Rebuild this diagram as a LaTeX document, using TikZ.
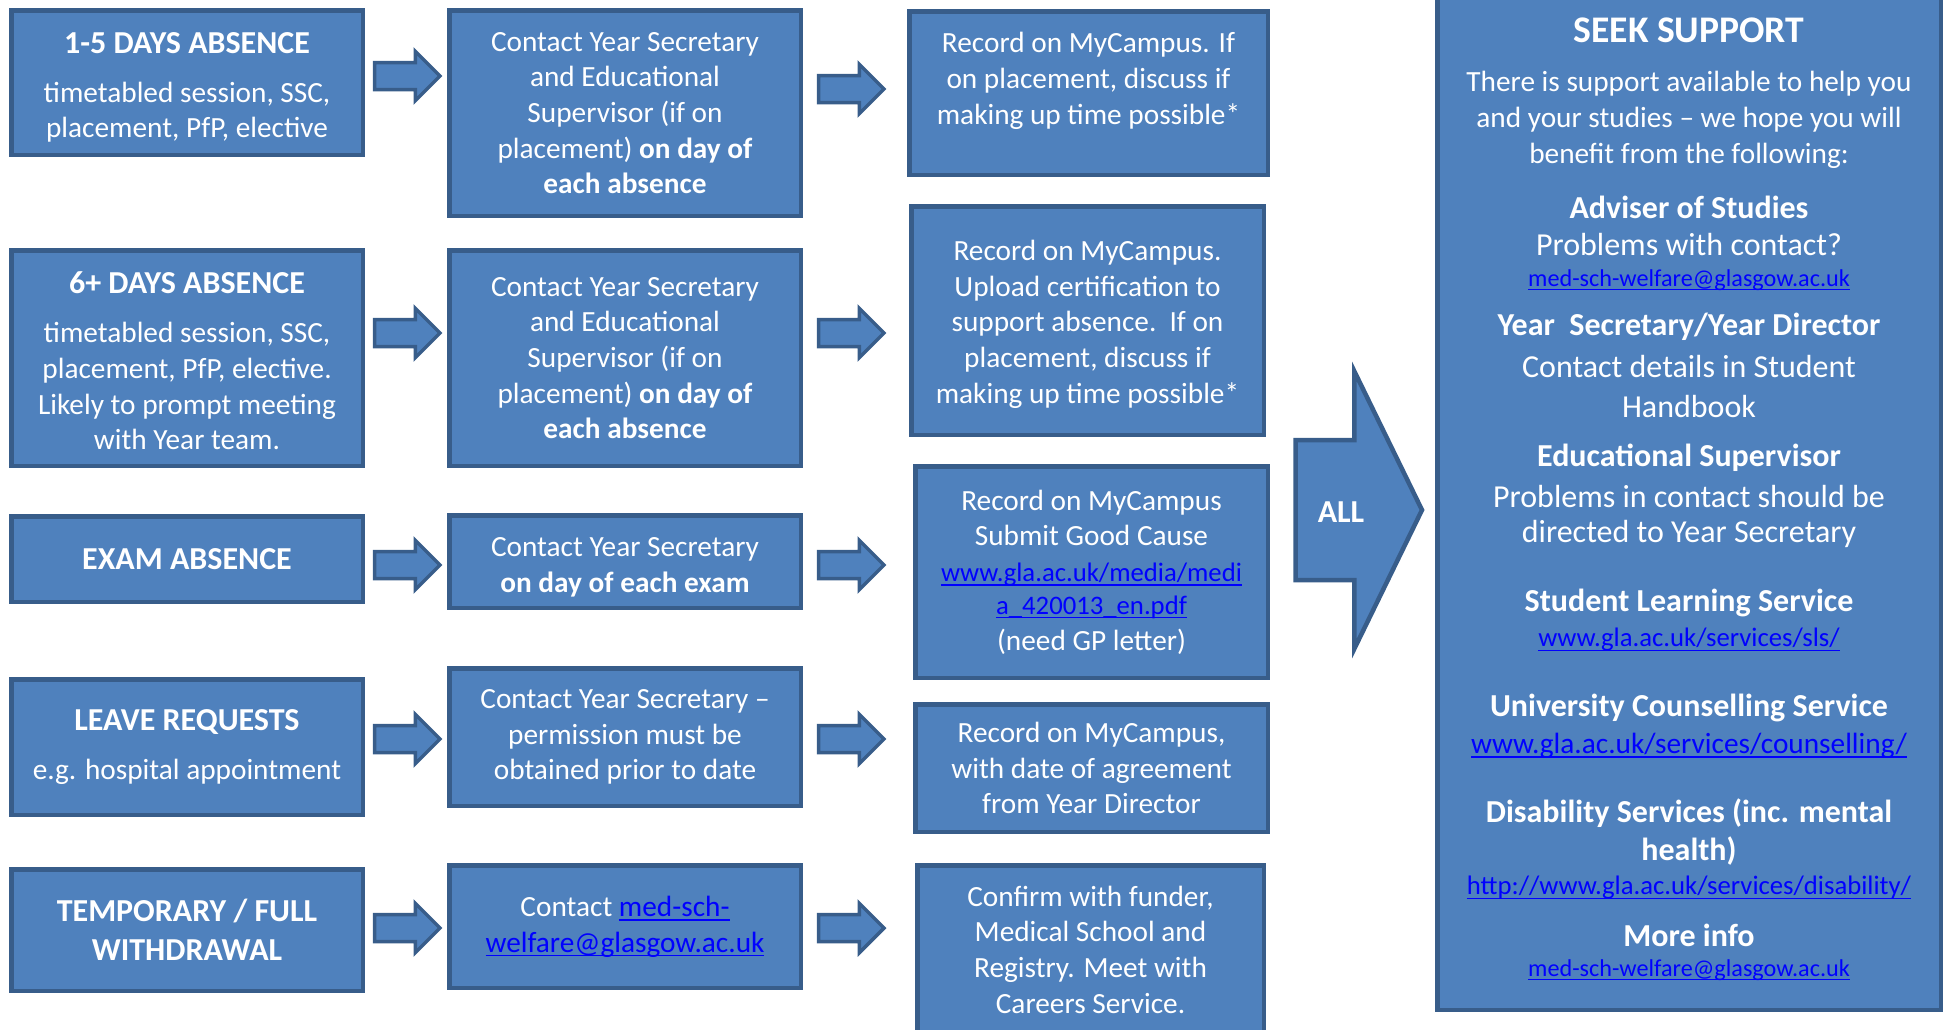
\documentclass[tikz,border=0pt]{standalone}
\usepackage{fontspec}
\setmainfont{Carlito}
\usetikzlibrary{shapes.arrows}
\definecolor{boxfill}{HTML}{4F81BD}
\definecolor{boxline}{HTML}{385D8A}
\definecolor{linkblue}{HTML}{0000FF}
\newcommand\fbody{\fontsize{29.3}{35.7}\selectfont}
\newcommand\fsect{\fontsize{32}{39}\selectfont}
\newcommand\fhead{\fontsize{32}{39}\selectfont\bfseries}
\newcommand\fseek{\fontsize{37.6}{45}\selectfont\bfseries}
\newcommand\fsmall{\fontsize{24.2}{29.5}\selectfont}
\newcommand\fmid{\fontsize{26.7}{32.6}\selectfont}
\newlength\lnkw
\newcommand\lnk[1]{\settowidth\lnkw{#1}\textcolor{linkblue}{#1\hspace*{-\lnkw}\rule[-0.15em]{\lnkw}{0.055em}}}

\begin{document}
\begin{tikzpicture}[x=1pt,y=-1pt,text=white,font=\fbody,
  box/.style={draw=boxline,fill=boxfill,line width=4.5pt,align=center,inner sep=0pt},
  blkarrow/.style={single arrow,draw=boxline,fill=boxfill,line width=3.5pt,inner xsep=0pt,inner ysep=11.75pt,
    minimum height=65.5pt,minimum width=46pt,single arrow head extend=11.25pt,anchor=tail}]
  \useasboundingbox (0,0) rectangle (1946,1029);
  % kind of absence
  \node[box,minimum width=351.5pt,minimum height=144.5pt] (abs1) at (187,82.5)
    {{\fhead\rule{0pt}{31pt}1-5 DAYS ABSENCE}\\[13pt]timetabled session, SSC,\\placement, PfP, elective};
  \node[box,minimum width=351.5pt,minimum height=215.5pt] (abs2) at (187,358)
    {{\fhead\rule{0pt}{28pt}6+ DAYS ABSENCE}\\[13pt]timetabled session, SSC,\\placement, PfP, elective.\\Likely to prompt meeting\\with Year team.};
  \node[box,minimum width=351.5pt,minimum height=85.5pt] (abs3) at (187,559) {{\fhead EXAM ABSENCE}};
  \node[box,minimum width=351.5pt,minimum height=135.5pt] (abs4) at (187,747)
    {{\fhead LEAVE REQUESTS}\\[13pt]e.g. hospital appointment};
  \node[box,minimum width=351.5pt,minimum height=121.5pt] (abs5) at (187,930)
    {{\fhead TEMPORARY / FULL}\\[3pt]{\fhead WITHDRAWAL}};
  % who to contact
  \node[box,minimum width=351.5pt,minimum height=205.5pt] (act1) at (625,113)
    {Contact Year Secretary\\and Educational\\Supervisor (if on\\placement) \textbf{on day of}\\\textbf{each absence}};
  \node[box,minimum width=351.5pt,minimum height=215.5pt] (act2) at (625,358)
    {Contact Year Secretary\\and Educational\\Supervisor (if on\\placement) \textbf{on day of}\\\textbf{each absence}};
  \node[box,minimum width=351.5pt,minimum height=92.5pt] (act3) at (625,561.5)
    {\rule{0pt}{31pt}Contact Year Secretary\\\textbf{on day of each exam}};
  \node[box,minimum width=351.5pt,minimum height=137.5pt] (act4) at (625,737)
    {Contact Year Secretary –\\permission must be\\obtained prior to date};
  \node[box,minimum width=351.5pt,minimum height=122.5pt] (act5) at (625,926.5)
    {Contact \lnk{med-sch-}\\\lnk{welfare@glasgow.ac.uk}};
  % recording
  \node[box,minimum width=358.5pt,minimum height=163.5pt] (rec1) at (1088.5,93)
    {Record on MyCampus. If\\on placement, discuss if\\making up time possible*\\[-6pt]\mbox{}};
  \node[box,minimum width=352.5pt,minimum height=228.5pt] (rec2) at (1087.5,320.5)
    {\rule{0pt}{28pt}Record on MyCampus.\\Upload certification to\\support absence.\ \ If on\\placement, discuss if\\making up time possible*};
  \node[box,minimum width=352.5pt,minimum height=211.5pt] (rec3) at (1091.5,572)
    {Record on MyCampus\\Submit Good Cause\\{\fmid\lnk{www.gla.ac.uk/media/medi}}\\[-3pt]{\fmid\lnk{a\_420013\_en.pdf}}\\(need GP letter)};
  \node[box,minimum width=352.5pt,minimum height=127.5pt] (rec4) at (1091.5,768)
    {Record on MyCampus,\\with date of agreement\\from Year Director};
  \node[box,minimum width=346.5pt,minimum height=168.5pt] (rec5) at (1090.5,949.5)
    {Confirm with funder,\\Medical School and\\Registry. Meet with\\Careers Service.};
  % block arrows between the columns
  \foreach \yy [count=\i] in {76,333,565,739,928}
    \node[blkarrow] (toact\i) at (372.75,\yy) {};
  \foreach \yy [count=\i] in {89,333,565,739,928}
    \node[blkarrow] (torec\i) at (816.75,\yy) {};
  \node[single arrow,draw=boxline,fill=boxfill,line width=4.5pt,inner xsep=0pt,inner ysep=67.75pt,
    minimum height=126.5pt,minimum width=272.8pt,single arrow head extend=68.65pt,
    single arrow tip angle=128,anchor=tail] (all) at (1293.25,510) {};
  \node[font=\fhead] (alltxt) at (1341,512) {ALL};
  % support panel
  \node[box,minimum width=503.5pt,minimum height=1022.5pt,anchor=north] (support) at (1689,-15) {};
  \foreach \yy/\fnt/\txt [count=\i] in {
      30/\fseek/{SEEK SUPPORT},
      84/\fbody/{There is support available to help you},
      120/\fbody/{and your studies – we hope you will},
      156/\fbody/{benefit from the following:},
      207/\fhead/{Adviser of Studies},
      245/\fsect/{Problems with contact?},
      280/\fsmall/{\lnk{med-sch-welfare@glasgow.ac.uk}},
      327/\fhead/{Year\ \ Secretary/Year Director},
      366/\fsect/{Contact details in Student},
      406/\fsect/{Handbook},
      458/\fhead/{Educational Supervisor},
      496/\fsect/{Problems in contact should be},
      534/\fsect/{directed to Year Secretary},
      603/\fhead/{Student Learning Service},
      640/\fmid/{\lnk{www.gla.ac.uk/services/sls/}},
      708/\fhead/{University Counselling Service},
      746/\fbody/{\lnk{www.gla.ac.uk/services/counselling/}},
      813/\fhead/{Disability Services (inc. mental},
      851/\fhead/{health)},
      888/\fmid/{\lnk{http://www.gla.ac.uk/services/disability/}},
      935/\fhead/{More info},
      970/\fsmall/{\lnk{med-sch-welfare@glasgow.ac.uk}}}
    \node[font=\fnt] (sup\i) at (1689,\yy) {\txt};
\end{tikzpicture}
\end{document}
